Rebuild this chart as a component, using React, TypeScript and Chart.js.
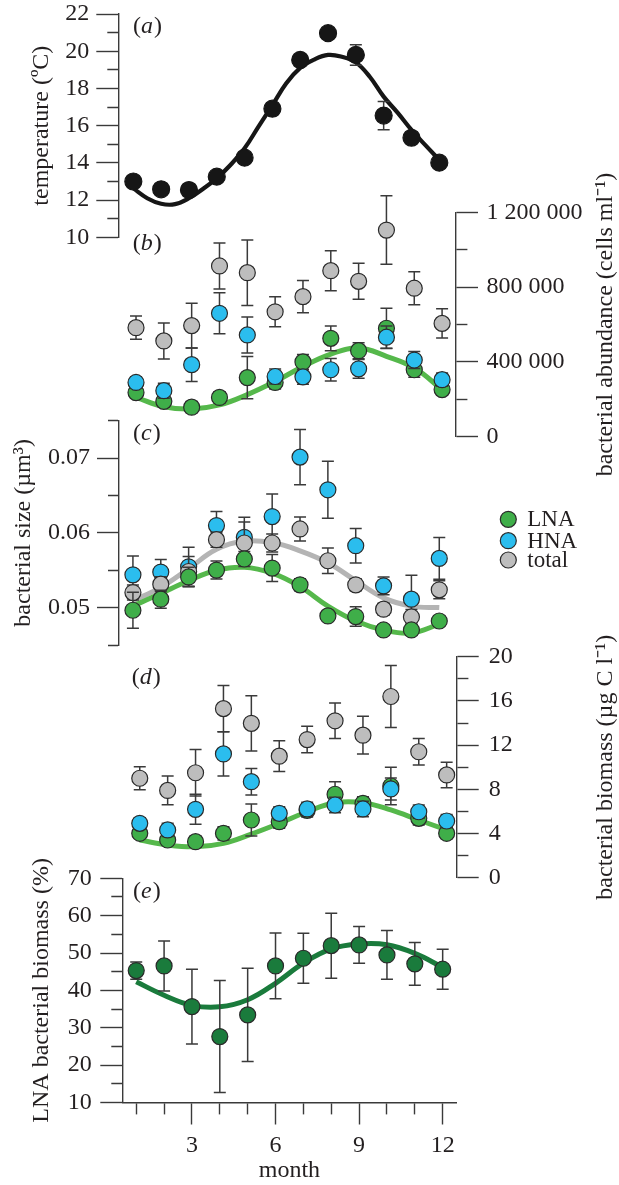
import { useEffect, useRef } from 'react';
import { Chart, registerables } from 'chart.js';

Chart.register(...registerables);

const SERIF = "'Liberation Serif', 'Times New Roman', Times, serif";
const INK = '#231f20';
const AXIS_COLOR = '#3a3a3a';
const MARKER_EDGE = '#2a2a2a';
const WHISKER = '#3a3a3a';
const BLACK = '#161616';
const GREEN = '#3fae49';
const BLUE = '#2bbdee';
const GREY = '#bdbdbd';
const GREEN_FIT = '#55b84b';
const GREY_FIT = '#b4b4b4';
const DARK_GREEN = '#1a7b3c';

// ---------------- data ----------------
const months = [1, 2, 3, 4, 5, 6, 7, 8, 9, 10, 11, 12];
const monthTicks = [1, 2, 3, 4, 5, 6, 7, 8, 9, 10, 11, 12];
const monthLabeled = [3, 6, 9, 12];

// (a) temperature
const tempMean = [13.0, 12.58, 12.54, 13.26, 14.28, 16.91, 19.53, 20.97, 19.8, 16.54, 15.35, 14.01];
const tempErr = [0.2, 0.2, 0.2, 0.2, 0.2, 0.2, 0.2, 0.2, 0.55, 0.76, 0.2, 0.2];
const tempFitMonths = [1, 1.5, 2, 2.5, 3, 3.5, 4, 4.5, 5, 5.5, 6, 6.5, 7, 7.5, 8, 8.5, 9, 9.5, 10, 10.5, 11, 11.5, 12];
const tempFit = [12.63, 12.1, 11.8, 11.78, 12.1, 12.6, 13.17, 13.9, 14.78, 15.95, 17.1, 18.28, 19.1, 19.55, 19.8, 19.7, 19.4, 18.63, 17.56, 16.7, 15.77, 14.95, 14.16];
const tempTicks = [10, 11, 12, 13, 14, 15, 16, 17, 18, 19, 20, 21, 22];
const tempLabeled = [10, 12, 14, 16, 18, 20, 22];
const tempLabels = ['10', '12', '14', '16', '18', '20', '22'];

// (b) bacterial abundance (cells ml-1)
const totalAbund = [583000, 512000, 594000, 913000, 877000, 668000, 749000, 888000, 831000, 1105000, 794000, 606000];
const totalAbundErr = [62000, 96000, 120000, 123000, 175000, 80000, 86000, 107000, 96000, 183000, 88000, 78000];
const hnaAbund = [290000, 246000, 385000, 660000, 544000, 322000, 320000, 358000, 363000, 532000, 410000, 305000];
const hnaAbundErr = [30000, 40000, 90000, 110000, 96000, 40000, 40000, 60000, 50000, 60000, 45000, 35000];
const lnaAbund = [236000, 189000, 158000, 210000, 316000, 290000, 400000, 526000, 460000, 580000, 358000, 252000];
const lnaAbundErr = [30000, 30000, 30000, 30000, 113000, 35000, 40000, 66000, 43000, 107000, 40000, 30000];
const lnaAbundFit = [210000, 160000, 148000, 170000, 225000, 295000, 375000, 442000, 474000, 430000, 368000, 252000];
const abundTicks = [0, 200000, 400000, 600000, 800000, 1000000, 1200000];
const abundLabeled = [0, 400000, 800000, 1200000];
const abundLabels = ['0', '400 000', '800 000', '1 200 000'];

// (c) bacterial size (um3)
const lnaSize = [0.04965, 0.05113, 0.0541, 0.05502, 0.0565, 0.05529, 0.05305, 0.04889, 0.0488, 0.04701, 0.04701, 0.04821];
const lnaSizeErr = [0.0024, 0.0012, 0.0013, 0.0012, 0.001, 0.0018, 0.0008, 0.0006, 0.0013, 0.0007, 0.0007, 0.0006];
const hnaSize = [0.05439, 0.05475, 0.05546, 0.06097, 0.0594, 0.06218, 0.07013, 0.06576, 0.05828, 0.05291, 0.05113, 0.05658];
const hnaSizeErr = [0.0025, 0.0017, 0.0026, 0.0019, 0.0027, 0.003, 0.0037, 0.0038, 0.0023, 0.0012, 0.0032, 0.0028];
const totalSize = [0.05201, 0.05314, 0.05483, 0.05909, 0.05864, 0.05864, 0.06052, 0.05627, 0.05305, 0.04979, 0.04875, 0.05238];
const totalSizeErr = [0.001, 0.001, 0.002, 0.001, 0.0028, 0.0012, 0.0016, 0.0017, 0.0008, 0.0008, 0.001, 0.0012];
const lnaSizeFit = [0.0502, 0.0519, 0.0536, 0.055, 0.0554, 0.0546, 0.0528, 0.0502, 0.0482, 0.047, 0.0466, 0.0478];
const totalSizeFit = [0.0509, 0.0527, 0.0552, 0.0578, 0.0589, 0.0587, 0.0576, 0.056, 0.0536, 0.0513, 0.0502, 0.05];
const sizeTicks = [0.045, 0.05, 0.055, 0.06, 0.065, 0.07, 0.075];
const sizeLabeled = [0.05, 0.06, 0.07];
const sizeLabels = ['0.05', '0.06', '0.07'];

// (d) bacterial biomass (ug C l-1)
const totalBio = [9.0, 7.9, 9.5, 15.3, 13.97, 11.0, 12.5, 14.2, 12.9, 16.4, 11.4, 9.3];
const totalBioErr = [1.05, 1.3, 2.1, 2.1, 2.5, 1.4, 1.2, 1.6, 1.7, 2.8, 1.2, 1.15];
const hnaBio = [4.92, 4.32, 6.19, 11.2, 8.69, 5.83, 6.22, 6.58, 6.22, 8.03, 5.97, 5.13];
const hnaBioErr = [0.5, 0.6, 1.36, 2.0, 1.2, 0.6, 0.6, 0.7, 0.7, 1.0, 0.6, 0.6];
const lnaBio = [4.02, 3.41, 3.26, 4.02, 5.22, 5.07, 6.1, 7.55, 6.73, 8.3, 5.37, 4.02];
const lnaBioErr = [0.4, 0.4, 0.5, 0.6, 1.45, 0.6, 0.6, 1.14, 0.6, 1.7, 0.6, 0.5];
const lnaBioFit = [3.41, 2.96, 2.8, 3.11, 3.95, 4.92, 5.97, 6.79, 6.79, 6.13, 5.22, 4.32];
const bioTicks = [0, 2, 4, 6, 8, 10, 12, 14, 16, 18, 20];
const bioLabeled = [0, 4, 8, 12, 16, 20];
const bioLabels = ['0', '4', '8', '12', '16', '20'];

// (e) LNA bacterial biomass (%)
const lnaPct = [45.3, 46.55, 35.67, 27.65, 33.45, 46.55, 48.6, 51.98, 52.17, 49.5, 47.1, 45.67];
const lnaPctErr = [2.3, 6.7, 10, 15, 12.5, 8.8, 6.7, 8.7, 4.9, 6.5, 5.7, 5.35];
const lnaPctFit = [42.3, 38.7, 36.0, 35.6, 37.5, 41.9, 47.3, 51.1, 52.4, 52.2, 49.9, 46.2];
const pctTicks = [10, 15, 20, 25, 30, 35, 40, 45, 50, 55, 60, 65, 70];
const pctLabeled = [10, 20, 30, 40, 50, 60, 70];
const pctLabels = ['10', '20', '30', '40', '50', '60', '70'];

const seriesNames = ['LNA', 'HNA', 'total'];

// ---------------- helpers ----------------
const pts = (xs: number[], ys: number[]) => xs.map((x, i) => ({ x, y: ys[i] }));

function markers(label: string, ys: number[], errs: number[], color: string, order: number, radius = 8, edge = MARKER_EDGE) {
  return {
    label,
    data: pts(months, ys),
    errors: errs,
    backgroundColor: color,
    borderColor: edge,
    borderWidth: 1.2,
    pointRadius: radius,
    pointHoverRadius: radius,
    showLine: false,
    order,
  };
}

function fitLine(xs: number[], ys: number[], color: string, width: number, order: number) {
  return {
    label: 'fit',
    data: pts(xs, ys),
    showLine: true,
    borderColor: color,
    backgroundColor: color,
    borderWidth: width,
    pointRadius: 0,
    pointHoverRadius: 0,
    tension: 0.4,
    fill: false,
    order,
  };
}

const errorBars = {
  id: 'errorBars',
  beforeDatasetDraw(chart: any, args: any) {
    const ds = chart.data.datasets[args.index];
    if (!ds.errors) return;
    const { ctx } = chart;
    const xs = chart.scales.x;
    const ys = chart.scales.y;
    const cap = 6;
    ctx.save();
    ctx.strokeStyle = WHISKER;
    ctx.lineWidth = 1.5;
    ds.data.forEach((p: any, i: number) => {
      const e = ds.errors[i];
      if (!e) return;
      const px = xs.getPixelForValue(p.x);
      const yT = ys.getPixelForValue(p.y + e);
      const yB = ys.getPixelForValue(p.y - e);
      ctx.beginPath();
      ctx.moveTo(px, yT);
      ctx.lineTo(px, yB);
      ctx.moveTo(px - cap, yT);
      ctx.lineTo(px + cap, yT);
      ctx.moveTo(px - cap, yB);
      ctx.lineTo(px + cap, yB);
      ctx.stroke();
    });
    ctx.restore();
  },
};

interface AxisSpec { ticks: number[]; labeled: number[]; labels: string[]; min: number; max: number }
interface PanelSpec {
  top: number;
  height: number;
  pad: { left: number; right: number; top: number; bottom: number };
  side: 'left' | 'right';
  axisWidth: number;
  labelPad: number;
  y: AxisSpec;
  xMin: number;
  xMax: number;
  showX?: boolean;
  xAxisHeight?: number;
  title: string;
  titlePad?: number;
  rightTitleX?: number;
  letter: string;
  letterX: number;
  letterY: number;
  datasets: any[];
  legend?: { x: number; textX: number; ys: number[]; colors: string[] };
}

function decor(p: PanelSpec) {
  return {
    id: 'decor',
    afterDraw(chart: any) {
      const ctx = chart.ctx as CanvasRenderingContext2D;
      ctx.save();
      ctx.fillStyle = INK;
      ctx.textBaseline = 'middle';
      ctx.textAlign = 'left';
      // panel letter
      const ly = p.letterY - p.top;
      let x = p.letterX;
      ctx.font = `24px ${SERIF}`;
      ctx.fillText('(', x, ly);
      x += ctx.measureText('(').width;
      ctx.font = `italic 24px ${SERIF}`;
      ctx.fillText(p.letter, x, ly);
      x += ctx.measureText(p.letter).width + 1;
      ctx.font = `24px ${SERIF}`;
      ctx.fillText(')', x, ly);
      // right-hand axis title, read bottom to top
      if (p.side === 'right' && p.rightTitleX) {
        const ca = chart.chartArea;
        ctx.save();
        ctx.translate(p.rightTitleX, (ca.top + ca.bottom) / 2);
        ctx.rotate(-Math.PI / 2);
        ctx.textAlign = 'center';
        ctx.font = `24px ${SERIF}`;
        ctx.fillText(p.title, 0, 0);
        ctx.restore();
      }
      // legend
      if (p.legend) {
        const lg = p.legend;
        ctx.font = `23px ${SERIF}`;
        seriesNames.forEach((name, i) => {
          const cy = lg.ys[i] - p.top;
          ctx.beginPath();
          ctx.arc(lg.x, cy, 8, 0, Math.PI * 2);
          ctx.fillStyle = lg.colors[i];
          ctx.fill();
          ctx.lineWidth = 1.2;
          ctx.strokeStyle = MARKER_EDGE;
          ctx.stroke();
          ctx.fillStyle = INK;
          ctx.fillText(name, lg.textX, cy + 1);
        });
      }
      ctx.restore();
    },
  };
}

function tickLabel(a: AxisSpec, v: number) {
  const i = a.labeled.indexOf(v);
  return i >= 0 ? a.labels[i] : '';
}

function buildConfig(p: PanelSpec): any {
  const isLeft = p.side === 'left';
  const yDash = isLeft ? [0, 11, 11, 100] : [11, 100];
  const font = { family: SERIF, size: 24 };
  const yScale: any = {
    type: 'linear',
    position: p.side,
    min: p.y.min,
    max: p.y.max,
    afterBuildTicks: (s: any) => {
      s.ticks = p.y.ticks.map((v) => ({ value: v }));
    },
    afterFit: (s: any) => {
      s.width = p.axisWidth;
      s.paddingTop = 0;
      s.paddingBottom = 0;
    },
    ticks: {
      autoSkip: false,
      maxRotation: 0,
      padding: p.labelPad,
      color: INK,
      font,
      callback: (v: number) => tickLabel(p.y, v),
    },
    grid: {
      display: true,
      drawOnChartArea: false,
      drawTicks: true,
      tickLength: 22,
      tickWidth: 1.4,
      tickColor: AXIS_COLOR,
      color: AXIS_COLOR,
      tickBorderDash: (c: any) => (c.tick && p.y.labeled.includes(c.tick.value) ? [] : yDash),
    },
    border: { display: true, color: AXIS_COLOR, width: 1.4 },
    title: isLeft
      ? { display: true, text: p.title, color: INK, font, padding: { top: p.titlePad ?? 0, bottom: 0 } }
      : { display: false },
  };
  const xScale: any = p.showX
    ? {
        type: 'linear',
        position: 'bottom',
        min: p.xMin,
        max: p.xMax,
        afterBuildTicks: (s: any) => {
          s.ticks = monthTicks.map((v) => ({ value: v }));
        },
        afterFit: (s: any) => {
          s.height = p.xAxisHeight;
          s.paddingLeft = 0;
          s.paddingRight = 0;
        },
        ticks: {
          autoSkip: false,
          maxRotation: 0,
          minRotation: 0,
          padding: 7,
          color: INK,
          font,
          callback: (v: number) => (monthLabeled.includes(v) ? String(v) : ''),
        },
        grid: {
          display: true,
          drawOnChartArea: false,
          drawTicks: true,
          tickLength: 22,
          tickWidth: 1.4,
          tickColor: AXIS_COLOR,
          color: AXIS_COLOR,
          tickBorderDash: (c: any) => (c.tick && monthLabeled.includes(c.tick.value) ? [] : [11, 100]),
        },
        border: { display: true, color: AXIS_COLOR, width: 1.4 },
        title: { display: true, text: 'month', color: INK, font, padding: { top: 0, bottom: 0 } },
      }
    : { type: 'linear', display: false, min: p.xMin, max: p.xMax };

  return {
    type: 'scatter',
    data: { datasets: p.datasets },
    options: {
      responsive: false,
      maintainAspectRatio: false,
      animation: false,
      devicePixelRatio: 1,
      events: [],
      layout: { padding: p.pad },
      scales: { x: xScale, y: yScale },
      plugins: { legend: { display: false }, tooltip: { enabled: false } },
    },
    plugins: [errorBars, decor(p)],
  };
}

// ---------------- panels ----------------
const panels: PanelSpec[] = [
  {
    top: 0,
    height: 250,
    pad: { left: 0, right: 165.8, top: 14, bottom: 12.7 },
    side: 'left',
    axisWidth: 118.3,
    labelPad: 7,
    y: { ticks: tempTicks, labeled: tempLabeled, labels: tempLabels, min: 10, max: 22 },
    xMin: 0.46,
    xMax: 12.5,
    title: 'temperature (ºC)',
    titlePad: 27.6,
    letter: 'a',
    letterX: 133,
    letterY: 27,
    datasets: [
      markers('temperature', tempMean, tempErr, BLACK, 1, 8.5, BLACK),
      fitLine(tempFitMonths, tempFit, BLACK, 4.2, 5),
    ],
  },
  {
    top: 150,
    height: 350,
    pad: { left: 122.1, right: 0, top: 62.3, bottom: 63.3 },
    side: 'right',
    axisWidth: 163,
    labelPad: 8.5,
    y: { ticks: abundTicks, labeled: abundLabeled, labels: abundLabels, min: 0, max: 1200000 },
    xMin: 0.5,
    xMax: 12.5,
    title: 'bacterial abundance (cells ml⁻¹)',
    rightTitleX: 606,
    letter: 'b',
    letterX: 132.7,
    letterY: 244,
    datasets: [
      markers('total', totalAbund, totalAbundErr, GREY, 1),
      markers('HNA', hnaAbund, hnaAbundErr, BLUE, 2),
      markers('LNA', lnaAbund, lnaAbundErr, GREEN, 3),
      fitLine(months, lnaAbundFit, GREEN_FIT, 5, 5),
    ],
  },
  {
    top: 400,
    height: 260,
    pad: { left: 0, right: 165.8, top: 20.7, bottom: 15 },
    side: 'left',
    axisWidth: 119,
    labelPad: 7,
    y: { ticks: sizeTicks, labeled: sizeLabeled, labels: sizeLabels, min: 0.045, max: 0.075 },
    xMin: 0.5,
    xMax: 12.5,
    title: 'bacterial size (µm³)',
    titlePad: 8.9,
    letter: 'c',
    letterX: 133,
    letterY: 434,
    datasets: [
      markers('LNA', lnaSize, lnaSizeErr, GREEN, 1),
      markers('total', totalSize, totalSizeErr, GREY, 2),
      markers('HNA', hnaSize, hnaSizeErr, BLUE, 3),
      fitLine(months, lnaSizeFit, GREEN_FIT, 5, 5),
      fitLine(months, totalSizeFit, GREY_FIT, 5, 6),
    ],
    legend: { x: 508.3, textX: 527.3, ys: [519.3, 540.7, 560], colors: [GREEN, BLUE, GREY] },
  },
  {
    top: 600,
    height: 310,
    pad: { left: 125.8, right: 0, top: 56.7, bottom: 32.3 },
    side: 'right',
    axisWidth: 162.3,
    labelPad: 10,
    y: { ticks: bioTicks, labeled: bioLabeled, labels: bioLabels, min: 0, max: 20 },
    xMin: 0.5,
    xMax: 12.36,
    title: 'bacterial biomass (µg C l⁻¹)',
    rightTitleX: 606,
    letter: 'd',
    letterX: 131.7,
    letterY: 678,
    datasets: [
      markers('total', totalBio, totalBioErr, GREY, 1),
      markers('HNA', hnaBio, hnaBioErr, BLUE, 2),
      markers('LNA', lnaBio, lnaBioErr, GREEN, 3),
      fitLine(months, lnaBioFit, GREEN_FIT, 5, 5),
    ],
  },
  {
    top: 850,
    height: 335,
    pad: { left: 0, right: 162.4, top: 28.3, bottom: 0 },
    side: 'left',
    axisWidth: 122.3,
    labelPad: 8.5,
    y: { ticks: pctTicks, labeled: pctLabeled, labels: pctLabels, min: 10, max: 70 },
    xMin: 0.5,
    xMax: 12.5,
    showX: true,
    xAxisHeight: 82.5,
    title: 'LNA bacterial biomass (%)',
    titlePad: 27.6,
    letter: 'e',
    letterX: 133,
    letterY: 892,
    datasets: [
      markers('LNA %', lnaPct, lnaPctErr, DARK_GREEN, 1),
      fitLine(months, lnaPctFit, DARK_GREEN, 5, 5),
    ],
  },
];

function Panel({ spec }: { spec: PanelSpec }) {
  const ref = useRef<HTMLCanvasElement>(null);
  useEffect(() => {
    const chart = new Chart(ref.current as HTMLCanvasElement, buildConfig(spec));
    return () => chart.destroy();
  }, [spec]);
  return (
    <canvas
      ref={ref}
      width={619}
      height={spec.height}
      style={{ position: 'absolute', left: 0, top: spec.top, width: 619, height: spec.height }}
    />
  );
}

export default function App() {
  return (
    <div style={{ position: 'absolute', left: 0, top: 0, width: 619, height: 1185, background: '#ffffff', overflow: 'hidden' }}>
      {panels.map((p) => (
        <Panel key={p.letter} spec={p} />
      ))}
    </div>
  );
}
